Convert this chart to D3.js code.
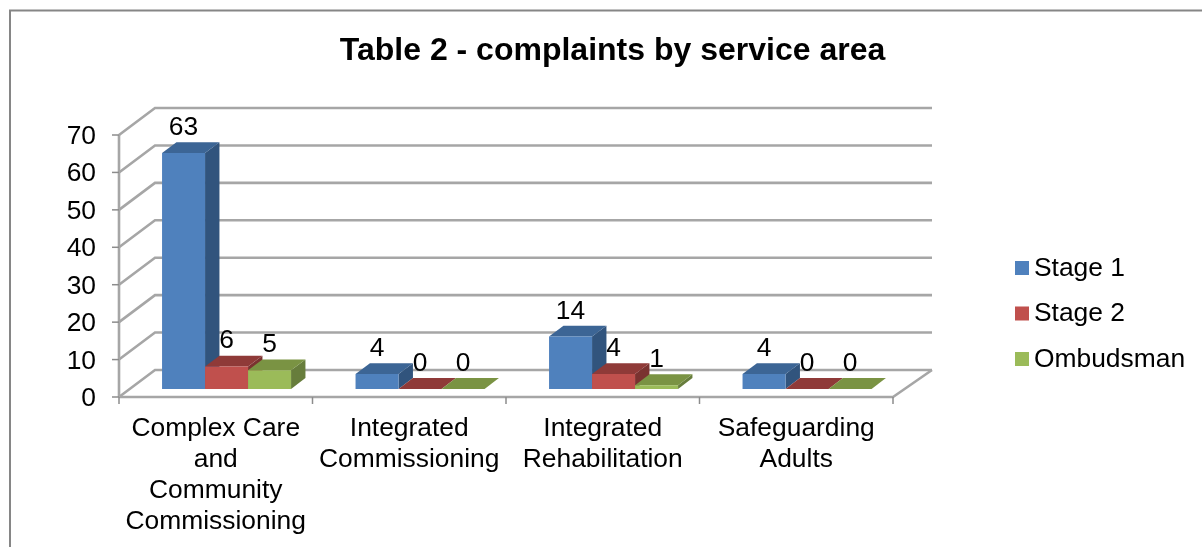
<!DOCTYPE html>
<html>
<head>
<meta charset="utf-8">
<script src="https://cdn.jsdelivr.net/npm/d3@7"></script>
<style>
  html, body { margin: 0; padding: 0; background: #fff; overflow: hidden; }
  svg { display: block; font-family: "Liberation Sans", Arial, sans-serif; filter: blur(0.35px); }
  text { fill: #000; }
</style>
</head>
<body>
<svg id="chart" width="1202" height="547"></svg>
<script>
const title = 'Table 2 - complaints by service area';
const categories = ['Complex Care and Community Commissioning', 'Integrated Commissioning', 'Integrated Rehabilitation', 'Safeguarding Adults'];
const categoryLines = [
  ['Complex Care', 'and', 'Community', 'Commissioning'],
  ['Integrated', 'Commissioning'],
  ['Integrated', 'Rehabilitation'],
  ['Safeguarding', 'Adults']
];
const seriesNames = ['Stage 1', 'Stage 2', 'Ombudsman'];
const stage1 = [63, 4, 14, 4];
const stage2 = [6, 0, 4, 0];
const ombudsman = [5, 0, 1, 0];
const yTicks = [0, 10, 20, 30, 40, 50, 60, 70];

const seriesValues = [stage1, stage2, ombudsman];
const colors = {
  front: ['#4f81bd', '#c0504d', '#9bbb59'],
  top: ['#3c6595', '#8f3a38', '#7a9343'],
  side: ['#31547d', '#7a3230', '#677d3c']
};

const svg = d3.select('#chart');
const gridColor = '#a6a6a6';
const fontSize = 26.4;

// 3d box of the plot: front plane plus a shift for the depth
const depthX = d3.scaleLinear().domain([0, 1]).range([0, 36]);
const depthY = d3.scaleLinear().domain([0, 1]).range([0, -27]);
const x = d3.scaleBand().domain(categories).range([119, 893]);
const xSeries = d3.scaleBand().domain(seriesNames).range([0, x.bandwidth()]).paddingOuter(0.75).paddingInner(0);
const y = d3.scaleLinear().domain([0, 70]).range([397, 135]);

const project = (px, value, depth) => [px + depthX(depth), y(value) + depthY(depth)];
const path = d3.line();

// frame (only top and left show in the crop)
svg.append('path')
  .attr('d', 'M10,547V10.5H1202')
  .attr('fill', 'none')
  .attr('stroke', '#868686')
  .attr('stroke-width', 2);

svg.append('text')
  .attr('x', 612.5)
  .attr('y', 60)
  .attr('text-anchor', 'middle')
  .attr('font-size', 32)
  .attr('font-weight', 'bold')
  .text(title);

// walls
const walls = svg.append('g')
  .attr('fill', 'none')
  .attr('stroke', gridColor)
  .attr('stroke-width', 2.6);

const plotLeft = x.range()[0];
const plotRight = x.range()[1];
// back wall runs a little further right than the plain depth shift
const backRight = plotRight + 3;

walls.selectAll('path.grid')
  .data(yTicks)
  .join('path')
  .attr('class', 'grid')
  .attr('d', d => path([
    project(plotLeft, d, 0),
    project(plotLeft, d, 1),
    project(backRight, d, 1)
  ]));

// floor front edge and right edge
walls.append('path')
  .attr('d', path([project(backRight, 0, 1), project(plotRight, 0, 0), project(plotLeft, 0, 0)]));

// y axis
walls.append('path')
  .attr('d', path([project(plotLeft, 70, 0), project(plotLeft, 0, 0)]));

const tickLines = svg.append('g')
  .attr('stroke', '#8c8c8c')
  .attr('stroke-width', 1.5);

tickLines.selectAll('line.ytick')
  .data(yTicks)
  .join('line')
  .attr('class', 'ytick')
  .attr('x1', plotLeft - 7)
  .attr('x2', plotLeft)
  .attr('y1', d => y(d))
  .attr('y2', d => y(d));

const xTickPos = categories.map(c => x(c)).concat([plotRight]);
tickLines.selectAll('line.xtick')
  .data(xTickPos)
  .join('line')
  .attr('class', 'xtick')
  .attr('x1', d => d)
  .attr('x2', d => d)
  .attr('y1', y(0))
  .attr('y2', y(0) + 7);

svg.append('g')
  .selectAll('text')
  .data(yTicks)
  .join('text')
  .attr('x', 96)
  .attr('y', d => y(d) + 9)
  .attr('text-anchor', 'end')
  .attr('font-size', fontSize)
  .text(d => d);

// bars, as three faces each
const barDepth = [0.3, 0.7];
const bars = [];
categories.forEach((c, i) => {
  seriesNames.forEach((s, j) => {
    bars.push({ category: c, series: s, j: j, value: seriesValues[j][i] });
  });
});

const barG = svg.append('g')
  .selectAll('g')
  .data(bars)
  .join('g');

const barLeft = d => x(d.category) + xSeries(d.series);
const barRight = d => barLeft(d) + xSeries.bandwidth();

barG.append('path')
  .attr('fill', d => colors.side[d.j])
  .attr('d', d => path([
    project(barRight(d), 0, barDepth[0]),
    project(barRight(d), d.value, barDepth[0]),
    project(barRight(d), d.value, barDepth[1]),
    project(barRight(d), 0, barDepth[1])
  ]) + 'Z');

barG.append('path')
  .attr('fill', d => colors.top[d.j])
  .attr('d', d => path([
    project(barLeft(d), d.value, barDepth[0]),
    project(barRight(d), d.value, barDepth[0]),
    project(barRight(d), d.value, barDepth[1]),
    project(barLeft(d), d.value, barDepth[1])
  ]) + 'Z');

barG.append('path')
  .attr('fill', d => colors.front[d.j])
  .attr('d', d => path([
    project(barLeft(d), 0, barDepth[0]),
    project(barRight(d), 0, barDepth[0]),
    project(barRight(d), d.value, barDepth[0]),
    project(barLeft(d), d.value, barDepth[0])
  ]) + 'Z');

// data labels
svg.append('g')
  .selectAll('text')
  .data(bars)
  .join('text')
  .attr('x', d => project(barLeft(d) + xSeries.bandwidth() / 2, d.value, barDepth[0])[0])
  .attr('y', d => project(0, d.value, barDepth[0])[1] - 18)
  .attr('text-anchor', 'middle')
  .attr('font-size', fontSize)
  .text(d => d.value);

// category labels
const catLabels = svg.append('g')
  .selectAll('text')
  .data(categories)
  .join('text')
  .attr('text-anchor', 'middle')
  .attr('font-size', fontSize);

catLabels.selectAll('tspan')
  .data((d, i) => categoryLines[i].map(line => ({ line: line, c: d })))
  .join('tspan')
  .attr('x', d => x(d.c) + x.bandwidth() / 2)
  .attr('y', (d, i) => 436 + i * 31)
  .text(d => d.line);

// legend
const legend = svg.append('g')
  .selectAll('g')
  .data(seriesNames)
  .join('g')
  .attr('transform', (d, i) => `translate(1015,${261 + i * 45.5})`);

legend.append('rect')
  .attr('width', 14)
  .attr('height', 14)
  .attr('fill', (d, i) => colors.front[i]);

legend.append('text')
  .attr('x', 19)
  .attr('y', 14.5)
  .attr('font-size', fontSize)
  .text(d => d);
</script>
</body>
</html>
